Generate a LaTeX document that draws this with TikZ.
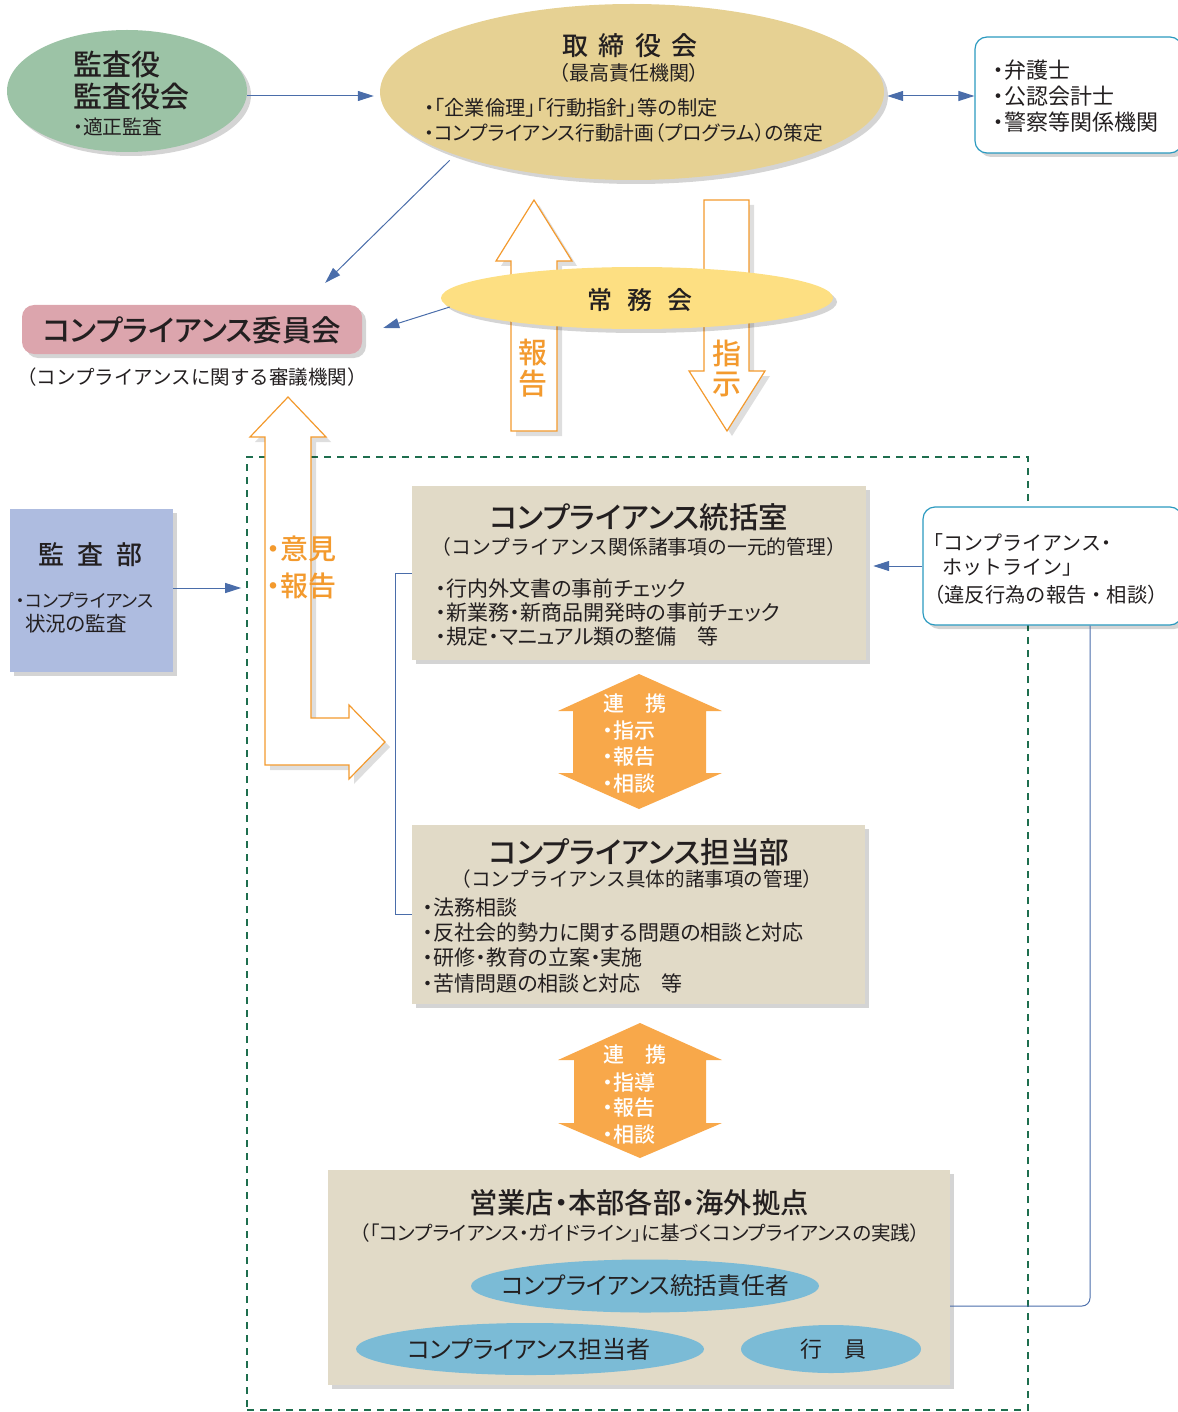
\documentclass[tikz,border=0pt]{standalone}
\usepackage{fontspec}
\setmainfont{Noto Sans CJK JP}[RawFeature=+palt,BoldFont={Noto Sans CJK JP Medium}]
\newfontfamily\fw{Noto Sans CJK JP}
\usetikzlibrary{shapes.geometric,shadows,arrows.meta,calc}
\definecolor{cblue}{HTML}{4A6DAA}
\definecolor{ctext}{HTML}{231F20}
\definecolor{corange}{HTML}{F39A2E}
\definecolor{cofill}{HTML}{F8A84A}
\definecolor{cgreenline}{HTML}{1E6E4E}
\definecolor{cteal}{HTML}{2B9AC0}
\definecolor{cbeige}{HTML}{E1DAC7}
\definecolor{cgreen}{HTML}{9CC3A6}
\definecolor{cgold}{HTML}{E6D193}
\definecolor{cyellow}{HTML}{FDDF82}
\definecolor{cpink}{HTML}{DCA5AD}
\definecolor{clav}{HTML}{AEBCE0}
\definecolor{clblue}{HTML}{7BBBD6}
\newcommand{\fs}[1]{\fontsize{#1}{#1}\selectfont}
\newcommand{\pd}{{\rmfamily ・}}
\begin{document}
\begin{tikzpicture}[x=1pt,y=-1pt,
  shd/.style={drop shadow={shadow xshift=4pt,shadow yshift=-4pt,fill=black,opacity=0.17}},
  txt/.style={inner sep=0pt,text=ctext},
  otxt/.style={inner sep=0pt,text=corange,font=\bfseries\fs{29}},
  wtxt/.style={inner sep=0pt,text=white,font=\bfseries\fs{21},anchor=west},
  box/.style={rectangle,inner sep=0pt,shd},
  oval/.style={ellipse,inner sep=0pt,shd},
  barrow/.style={draw=cblue,line width=1pt,-{Triangle[length=16pt,width=10pt]}},
  bdarrow/.style={draw=cblue,line width=1pt,{Triangle[length=16pt,width=10pt]}-{Triangle[length=16pt,width=10pt]}},
  bline/.style={draw=cblue,line width=1pt},
  oline/.style={draw=corange,line width=1.2pt,fill=white,line join=miter},
  sfill/.style={fill=black,opacity=0.13},
  roundbox/.style={rectangle,rounded corners=12pt,draw=cteal,line width=1.2pt,fill=white,inner sep=0pt,shd}]
\useasboundingbox (0,0) rectangle (1177,1412);

% dashed frame
\node[rectangle,draw=cgreenline,line width=1.6pt,dash pattern=on 7pt off 6pt,minimum width=781pt,minimum height=953pt,inner sep=0pt] (frame) at (637.5,933.5) {};

% top ellipses and boxes
\node[oval,fill=cgreen,minimum width=240pt,minimum height=122pt] (kansa) at (127,91) {};
\node[oval,fill=cgold,minimum width=504pt,minimum height=176pt] (board) at (632,92) {};
\node[roundbox,minimum width=207pt,minimum height=116pt] (lawyers) at (1078.5,95) {};
\node[box,rounded corners=12pt,fill=cpink,minimum width=340pt,minimum height=49pt] (committee) at (192,329.5) {};

% report / instruction arrows
\def\UpArrow{(534,200) -- (572,261) -- (557,261) -- (557,431) -- (511,431) -- (511,261) -- (496,261) -- cycle}
\def\DownArrow{(704,200) -- (749,200) -- (749,371) -- (765,371) -- (727,431) -- (689,371) -- (704,371) -- cycle}
\fill[sfill,xshift=5pt,yshift=-5pt] \UpArrow;
\fill[sfill,xshift=5pt,yshift=-5pt] \DownArrow;
\draw[oline] \UpArrow;
\draw[oline] \DownArrow;
\node[oval,fill=cyellow,minimum width=392pt,minimum height=62pt] (jomu) at (637,298) {};

% opinion / report L arrow
\def\LArrow{(288,397) -- (326,437) -- (311,437) -- (311,718) -- (349,718) -- (349,705) -- (385,742) -- (349,779) -- (349,765) -- (265,765) -- (265,437) -- (250,437) -- cycle}
\fill[sfill,xshift=5pt,yshift=-5pt] \LArrow;
\draw[oline] \LArrow;

% middle boxes
\node[box,fill=clav,minimum width=163pt,minimum height=163pt] (audit) at (91.5,590.5) {};
\node[box,fill=cbeige,minimum width=454pt,minimum height=174pt] (tokatsu) at (639,573) {};
\node[roundbox,minimum width=259pt,minimum height=118pt] (hotline) at (1052.5,566) {};
\node[box,fill=cbeige,minimum width=453pt,minimum height=179pt] (tanto) at (638.5,914.5) {};
\node[box,fill=cbeige,minimum width=622pt,minimum height=215pt] (branch) at (639,1277.5) {};

% linkage arrows
\def\LinkA{(639,674) -- (722,711) -- (706,711) -- (706,773) -- (722,773) -- (639,809) -- (558,773) -- (573,773) -- (573,711) -- (558,711) -- cycle}
\def\LinkB{(640,1023) -- (722,1060) -- (706,1060) -- (706,1123) -- (722,1123) -- (640,1158) -- (558,1123) -- (574,1123) -- (574,1060) -- (558,1060) -- cycle}
\fill[cofill] \LinkA;
\fill[cofill] \LinkB;

% blue ellipses
\node[ellipse,fill=clblue,inner sep=0pt,minimum width=348pt,minimum height=53pt] (sekinin) at (645,1286) {};
\node[ellipse,fill=clblue,inner sep=0pt,minimum width=348pt,minimum height=52pt] (tantosha) at (530,1349) {};
\node[ellipse,fill=clblue,inner sep=0pt,minimum width=180pt,minimum height=48pt] (koin) at (831,1349) {};

% connectors
\draw[barrow] ($(kansa.east)+(0,5)$) -- ($(board.west)+(-6,4)$);
\draw[bdarrow] ($(board.east)+(3,4)$) -- ($(lawyers.west)+(0,1)$);
\draw[barrow] ($(board.south west)+(-4,6)$) -- ($(committee.north east)+(-37,-22)$);
\draw[barrow] ($(jomu.west)+(9,9)$) -- ($(committee.east)+(21,-1.5)$);
\coordinate (ae) at ($(audit.east)+(0,-2.5)$);
\draw[barrow,shorten >=5pt] (ae) -- (ae -| frame.west);
\draw[barrow] (hotline.west) -- ($(tokatsu.east)+(7,-7)$);
\draw[bline] (tokatsu.west) -- ++(-16,0) |- (tanto.west);
\coordinate (hl) at ($(hotline.south)+(37.5,0)$);
\draw[bline,rounded corners=8pt] (hl) -- (hl |- 0,1306) -- (branch.east |- 0,1306);

% texts: kansayaku
\node[txt,anchor=west,font=\bfseries\fs{29}] (ka1) at (73,65) {監査役};
\node[txt,anchor=west,font=\bfseries\fs{29}] (ka2) at (73,97) {監査役会};
\node[txt,anchor=west,font=\fs{19.8}] (ka3) at (73,127) {・適正監査};
% board
\node[txt,font=\bfseries\fs{26}] (bo1) at (630,46) {取\kern.4em 締\kern.4em 役\kern.4em 会};
\node[txt,font=\fs{20}] (bo2) at (629,73) {（最高責任機関）};
\node[txt,anchor=west,font=\fs{20.3}] (bo3) at (424,108) {・「企業倫理」「行動指針」等の制定};
\node[txt,anchor=west,font=\fs{19.8}] (bo4) at (424,133) {・コンプライアンス行動計画（プログラム）の策定};
% lawyers
\node[txt,anchor=west,font=\fs{22}] (la1) at (993,70) {・弁護士};
\node[txt,anchor=west,font=\fs{22}] (la2) at (993,96) {・公認会計士};
\node[txt,anchor=west,font=\fs{22}] (la3) at (993,122) {・警察等関係機関};
% committee
\node[txt,font=\bfseries\fs{29.5}] (co1) at (192,330) {コンプライアンス委員会};
\node[txt,font=\fw\fs{19.5}] (co2) at (192,377) {（コンプライアンスに関する審議機関）};
% jomu
\node[txt,font=\bfseries\fs{25}] (jo1) at (640,300) {常\kern.6em 務\kern.6em 会};
\node[otxt] (ho1) at (533,353) {報};
\node[otxt] (ho2) at (533,384) {告};
\node[otxt] (sh1) at (727,353) {指};
\node[otxt] (sh2) at (727,384) {示};
% opinion
\node[otxt,anchor=west,font=\bfseries\fs{28}] (op1) at (266,549) {・意見};
\node[otxt,anchor=west,font=\bfseries\fs{28}] (op2) at (266,586) {・報告};
% audit
\node[txt,font=\bfseries\fs{26}] (au1) at (90,555) {監\kern.5em 査\kern.5em 部};
\node[txt,anchor=west,font=\fs{18}] (au2) at (16,600) {・コンプライアンス};
\node[txt,anchor=west,font=\fs{20.5}] (au3) at (25,624) {状況の監査};
% tokatsu
\node[txt,font=\bfseries\fs{29.5}] (tk1) at (639,517) {コンプライアンス統括室};
\node[txt,font=\fw\fs{19.8}] (tk2) at (639,547) {（コンプライアンス関係諸事項の一元的管理）};
\node[txt,anchor=west,font=\fs{21}] (tk3) at (436,588) {・行内外文書の事前チェック};
\node[txt,anchor=west,font=\fs{21}] (tk4) at (436,613) {・新業務・新商品開発時の事前チェック};
\node[txt,anchor=west,font=\fs{21}] (tk5) at (436,637) {・規定・マニュアル類の整備　等};
% hotline
\node[txt,anchor=west,font=\fw\fs{20}] (hl1) at (933,542) {{\rmfamily 「}コンプライアンス\pd};
\node[txt,anchor=west,font=\fw\fs{20}] (hl2) at (942,568) {ホットライン」};
\node[txt,anchor=west,font=\fw\fs{20.3}] (hl3) at (924,595) {（違反行為の報告・相談）};
% link A
\node[wtxt] (la) at (603,704) {連　携};
\node[wtxt] (lb) at (603,731) {・指示};
\node[wtxt] (lc) at (603,757) {・報告};
\node[wtxt] (ld) at (603,784) {・相談};
% tanto
\node[txt,font=\bfseries\fs{29.7}] (ta1) at (639,852) {コンプライアンス担当部};
\node[txt,font=\fw\fs{19.6}] (ta2) at (637,879) {（コンプライアンス具体的諸事項の管理）};
\node[txt,anchor=west,font=\fs{21}] (ta3) at (423,908) {・法務相談};
\node[txt,anchor=west,font=\fs{21}] (ta4) at (423,933) {・反社会的勢力に関する問題の相談と対応};
\node[txt,anchor=west,font=\fs{21}] (ta5) at (423,958) {・研修・教育の立案・実施};
\node[txt,anchor=west,font=\fs{21}] (ta6) at (423,983) {・苦情問題の相談と対応　等};
% link B
\node[wtxt] (lba) at (603,1055) {連　携};
\node[wtxt] (lbb) at (603,1082) {・指導};
\node[wtxt] (lbc) at (603,1108) {・報告};
\node[wtxt] (lbd) at (603,1135) {・相談};
% branch
\node[txt,font=\bfseries\fs{28.3}] (br1) at (639,1203) {営業店・本部各部・海外拠点};
\node[txt,font=\fs{19.6}] (br2) at (640,1233) {（「コンプライアンス・ガイドライン」に基づくコンプライアンスの実践）};
\node[txt,font=\fs{23.7}] (br3) at (645,1286) {コンプライアンス統括責任者};
\node[txt,font=\fs{24}] (br4) at (529,1349) {コンプライアンス担当者};
\node[txt,font=\fs{22}] (br5) at (833,1349) {行　員};
\end{tikzpicture}
\end{document}
